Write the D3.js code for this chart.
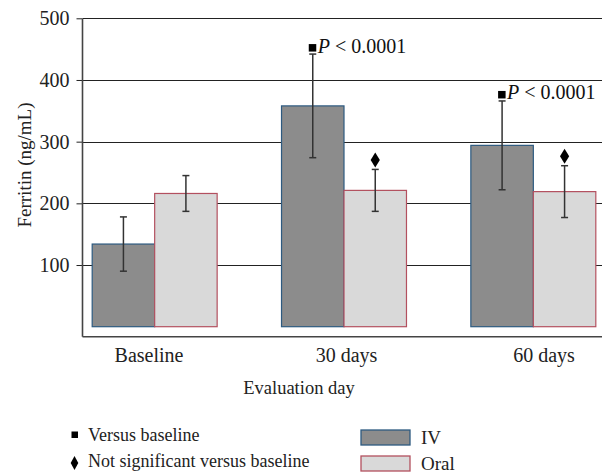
<!DOCTYPE html>
<html>
<head>
<meta charset="utf-8">
<script src="https://cdn.jsdelivr.net/npm/d3@7"></script>
<style>
  html, body { margin: 0; padding: 0; background: #fff; }
  svg { display: block; font-family: "Liberation Serif", "Times New Roman", serif; }
</style>
</head>
<body>
<svg id="chart" width="602" height="473"></svg>
<script>
const categories = ["Baseline", "30 days", "60 days"];
const seriesNames = ["IV", "Oral"];
const ivMean = [134, 358, 294];
const ivSD = [44, 84, 72];
const oralMean = [216, 221, 219];
const oralSD = [29, 34, 42];
const yTicks = [100, 200, 300, 400, 500];
const versusBaseline = [false, true, true];      // IV: P < 0.0001 marker
const notSignificant = [false, true, true];      // Oral: diamond marker
const pLabel = "< 0.0001";
const legendMarkers = ["Versus baseline", "Not significant versus baseline"];

const colors = {
  IV: { fill: "#8c8c8c", stroke: "#2d5a80" },
  Oral: { fill: "#d9d9d9", stroke: "#b3505f" }
};

const svg = d3.select("#chart");
const plot = { left: 82.5, right: 602, top: 19, bottom: 336.7 };

const y = d3.scaleLinear().domain([0, 500]).range([326.7, 18.3]);
const x0 = d3.scaleBand().domain(categories).range([60, 628]).paddingInner(0.34).paddingOuter(0.17);
const x1 = d3.scaleBand().domain(seriesNames).range([0, x0.bandwidth()]);
const xLabel = d3.scalePoint().domain(categories).range([149, 544]);

const data = categories.map((c, i) => ({
  cat: c, i,
  values: [
    { key: "IV", mean: ivMean[i], sd: ivSD[i] },
    { key: "Oral", mean: oralMean[i], sd: oralSD[i] }
  ]
}));

// gridlines
svg.append("g").selectAll("line").data(yTicks).join("line")
  .attr("x1", plot.left).attr("x2", plot.right)
  .attr("y1", d => Math.round(y(d)) + 0.5).attr("y2", d => Math.round(y(d)) + 0.5)
  .attr("stroke", "#222").attr("stroke-width", 1);

// y axis
const yAxis = d3.axisLeft(y).tickValues(yTicks).tickSize(6).tickPadding(7).tickFormat(d3.format("d"));
const gy = svg.append("g").attr("transform", `translate(${plot.left},0)`).call(yAxis);
gy.select(".domain").remove();
gy.selectAll(".tick line").attr("stroke", "#222");
gy.selectAll(".tick text").attr("font-size", 20).attr("fill", "#222")
  .attr("font-family", "Liberation Serif, serif");
svg.append("line").attr("x1", plot.left).attr("x2", plot.left)
  .attr("y1", plot.top).attr("y2", plot.bottom)
  .attr("stroke", "#444").attr("stroke-width", 1.6);

// bars
const groups = svg.append("g").selectAll("g").data(data).join("g")
  .attr("transform", d => `translate(${x0(d.cat)},0)`);

groups.selectAll("rect").data(d => d.values).join("rect")
  .attr("x", d => x1(d.key))
  .attr("y", d => y(d.mean))
  .attr("width", x1.bandwidth())
  .attr("height", d => y(0) - y(d.mean))
  .attr("fill", d => colors[d.key].fill)
  .attr("stroke", d => colors[d.key].stroke)
  .attr("stroke-width", 1.2);

// error bars
const eb = groups.selectAll("g.err").data(d => d.values).join("g").attr("class", "err")
  .attr("transform", d => `translate(${x1(d.key) + x1.bandwidth() / 2},0)`);
eb.append("line").attr("y1", d => y(d.mean + d.sd)).attr("y2", d => y(d.mean - d.sd))
  .attr("stroke", "#333").attr("stroke-width", 1.5);
eb.append("line").attr("x1", -3.5).attr("x2", 3.5).attr("y1", d => y(d.mean + d.sd)).attr("y2", d => y(d.mean + d.sd))
  .attr("stroke", "#333").attr("stroke-width", 1.5);
eb.append("line").attr("x1", -3.5).attr("x2", 3.5).attr("y1", d => y(d.mean - d.sd)).attr("y2", d => y(d.mean - d.sd))
  .attr("stroke", "#333").attr("stroke-width", 1.5);

// x axis line
svg.append("line").attr("x1", plot.left).attr("x2", plot.right)
  .attr("y1", plot.bottom).attr("y2", plot.bottom)
  .attr("stroke", "#444").attr("stroke-width", 1.6);

// significance markers
data.forEach(d => {
  const cx0 = x0(d.cat);
  if (versusBaseline[d.i]) {
    const v = d.values[0];
    const cx = cx0 + x1("IV") + x1.bandwidth() / 2;
    const top = y(v.mean + v.sd);
    svg.append("rect").attr("x", cx - 4).attr("y", top - 10).attr("width", 7.5).attr("height", 7.5).attr("fill", "#000");
    const t = svg.append("text").attr("x", cx + 5).attr("y", top - 1.5).attr("font-size", 20).attr("fill", "#111");
    t.append("tspan").attr("font-style", "italic").text("P");
    t.append("tspan").text(" " + pLabel);
  }
  if (notSignificant[d.i]) {
    const v = d.values[1];
    const cx = cx0 + x1("Oral") + x1.bandwidth() / 2;
    const top = y(v.mean + v.sd);
    const cy = top - 9.5;
    svg.append("path").attr("d", `M${cx},${cy - 7.5}L${cx + 4.6},${cy}L${cx},${cy + 7.5}L${cx - 4.6},${cy}Z`).attr("fill", "#000");
  }
});

// x labels
svg.append("g").selectAll("text").data(categories).join("text")
  .attr("x", d => xLabel(d))
  .attr("y", 362).attr("text-anchor", "middle").attr("font-size", 20).attr("fill", "#222")
  .text(d => d);

// axis titles
svg.append("text").attr("x", 299).attr("y", 393.5).attr("text-anchor", "middle")
  .attr("font-size", 18.5).attr("fill", "#222").text("Evaluation day");
svg.append("text").attr("transform", "translate(31,165) rotate(-90)").attr("text-anchor", "middle")
  .attr("font-size", 19).attr("fill", "#222").text("Ferritin (ng/mL)");

// legend markers
svg.append("rect").attr("x", 71.5).attr("y", 431.5).attr("width", 6.5).attr("height", 6.5).attr("fill", "#000");
svg.append("path").attr("d", "M74.5,456L78.3,463L74.5,470L70.7,463Z").attr("fill", "#000");
svg.append("g").selectAll("text").data(legendMarkers).join("text")
  .attr("x", 88).attr("y", (d, i) => 440.5 + i * 26.5)
  .attr("font-size", 18).attr("fill", "#222").text(d => d);

// legend series
const lg = svg.append("g").selectAll("g").data(seriesNames).join("g")
  .attr("transform", (d, i) => `translate(361,${430 + i * 26})`);
lg.append("rect").attr("width", 49).attr("height", 15)
  .attr("fill", d => colors[d].fill).attr("stroke", d => colors[d].stroke).attr("stroke-width", 1.3);
lg.append("text").attr("x", 60).attr("y", 14).attr("font-size", 19).attr("fill", "#222").text(d => d);
</script>
</body>
</html>
